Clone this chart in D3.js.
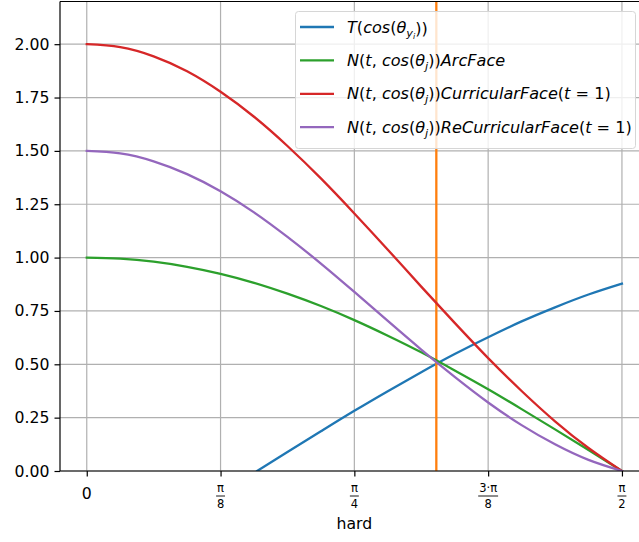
<!DOCTYPE html>
<html>
<head>
  <meta charset="utf-8">
  <script src="https://cdnjs.cloudflare.com/ajax/libs/d3/7.8.5/d3.min.js"></script>
  <style>
    body { margin: 0; background: #fff; }
    text { font-family: "DejaVu Sans", sans-serif; fill: #000; }
  </style>
</head>
<body>
  <script>
    // sample positions (radians) along the x axis
    var thetas = [0, 0.0982, 0.1963, 0.2945, 0.3927, 0.4909, 0.5890, 0.6872, 0.7854,
                  0.8836, 0.9817, 1.0799, 1.1781, 1.2763, 1.3744, 1.4726, 1.5708];

    var arcFace = [1.000, 0.995, 0.981, 0.957, 0.924, 0.882, 0.831, 0.773, 0.707,
                   0.634, 0.556, 0.471, 0.383, 0.290, 0.195, 0.098, 0.000];
    var curricular = [2.000, 1.986, 1.943, 1.873, 1.777, 1.660, 1.523, 1.371, 1.207,
                      1.037, 0.864, 0.694, 0.529, 0.375, 0.233, 0.108, 0.000];
    var reCurricular = [1.500, 1.488, 1.451, 1.391, 1.311, 1.212, 1.097, 0.972, 0.839,
                        0.703, 0.569, 0.441, 0.321, 0.215, 0.125, 0.052, 0.000];

    // target logit only shows above zero
    var targetX = [0.5, 0.5890, 0.6872, 0.7854, 0.8836, 0.9817, 1.0799, 1.1781, 1.2763, 1.3744, 1.4726, 1.5708];
    var targetY = [0.000, 0.089, 0.186, 0.282, 0.374, 0.463, 0.548, 0.627, 0.701, 0.767, 0.827, 0.878];

    var markerX = 1.026;

    var yTicks = [0, 0.25, 0.5, 0.75, 1.0, 1.25, 1.5, 1.75, 2.0];
    var xTicks = [0, Math.PI / 8, Math.PI / 4, 3 * Math.PI / 8, Math.PI / 2];
    var xTickLabels = [{num: "0"}, {num: "π", den: "8"}, {num: "π", den: "4"},
                       {num: "3·π", den: "8"}, {num: "π", den: "2"}];
    var xLabel = "hard";

    // legend labels as math pieces: [text, italic, subscript level]
    var legendLabels = [
      [["T", 1], ["(", 0], ["cos", 1], ["(", 0], ["θ", 1], ["y", 1, 1], ["i", 1, 2], ["))", 0]],
      [["N", 1], ["(", 0], ["t", 1], [", ", 0], ["cos", 1], ["(", 0], ["θ", 1], ["j", 1, 1], ["))", 0], ["ArcFace", 1]],
      [["N", 1], ["(", 0], ["t", 1], [", ", 0], ["cos", 1], ["(", 0], ["θ", 1], ["j", 1, 1], ["))", 0], ["CurricularFace", 1], ["(", 0], ["t", 1], [" = 1)", 0]],
      [["N", 1], ["(", 0], ["t", 1], [", ", 0], ["cos", 1], ["(", 0], ["θ", 1], ["j", 1, 1], ["))", 0], ["ReCurricularFace", 1], ["(", 0], ["t", 1], [" = 1)", 0]]
    ];
    var legendColors = ["#1f77b4", "#2ca02c", "#d62728", "#9467bd"];

    var width = 639, height = 542;
    var plotLeft = 60, plotRight = 648.7, plotTop = 1.5, plotBottom = 471;
    var fs = 15.7, legendFs = 16.1;

    var svg = d3.select("body").append("svg")
      .attr("width", width)
      .attr("height", height);

    var x = d3.scaleLinear()
      .domain([-Math.PI / 40, Math.PI / 2 + Math.PI / 40])
      .range([plotLeft, plotRight]);
    var y = d3.scaleLinear()
      .domain([0, 2.2])
      .range([plotBottom, plotTop]);

    svg.append("clipPath").attr("id", "plot")
      .append("rect")
      .attr("x", plotLeft).attr("y", plotTop)
      .attr("width", plotRight - plotLeft).attr("height", plotBottom - plotTop);

    // grid
    svg.append("g").selectAll("line")
      .data(xTicks).enter().append("line")
      .attr("x1", function(d) { return x(d); })
      .attr("x2", function(d) { return x(d); })
      .attr("y1", plotTop).attr("y2", plotBottom)
      .attr("stroke", "#b0b0b0").attr("stroke-width", 1.2);
    svg.append("g").selectAll("line")
      .data(yTicks).enter().append("line")
      .attr("x1", plotLeft).attr("x2", plotRight)
      .attr("y1", function(d) { return y(d); })
      .attr("y2", function(d) { return y(d); })
      .attr("stroke", "#b0b0b0").attr("stroke-width", 1.2);

    var line = d3.line()
      .x(function(d) { return x(d[0]); })
      .y(function(d) { return y(d[1]); })
      .curve(d3.curveNatural);

    var plot = svg.append("g").attr("clip-path", "url(#plot)");

    function drawSeries(xs, ys, color) {
      plot.append("path")
        .datum(d3.zip(xs, ys))
        .attr("d", line)
        .attr("fill", "none")
        .attr("stroke", color)
        .attr("stroke-width", 2.3)
        .attr("stroke-linejoin", "round")
        .attr("stroke-linecap", "square");
    }

    drawSeries(targetX, targetY, "#1f77b4");
    plot.append("line")
      .attr("x1", x(markerX)).attr("x2", x(markerX))
      .attr("y1", y(0)).attr("y2", y(2.2))
      .attr("stroke", "#ff7f0e").attr("stroke-width", 2.3);
    drawSeries(thetas, arcFace, "#2ca02c");
    drawSeries(thetas, curricular, "#d62728");
    drawSeries(thetas, reCurricular, "#9467bd");

    // y axis
    var yAxis = svg.append("g")
      .attr("transform", "translate(" + plotLeft + ",0)")
      .call(d3.axisLeft(y).tickValues(yTicks).tickFormat(d3.format(".2f"))
        .tickSize(5.5).tickPadding(5));
    yAxis.select(".domain").remove();
    yAxis.selectAll("line").attr("stroke", "#000").attr("stroke-width", 1.2);
    yAxis.selectAll("text").attr("fill", "#000")
      .style("font-size", fs + "px").style("font-family", "DejaVu Sans");

    // x axis ticks (labels drawn as stacked fractions)
    var xAxis = svg.append("g")
      .attr("transform", "translate(0," + plotBottom + ")")
      .call(d3.axisBottom(x).tickValues(xTicks).tickFormat("").tickSize(5.5));
    xAxis.select(".domain").remove();
    xAxis.selectAll("line").attr("stroke", "#000").attr("stroke-width", 1.2);

    var tl = svg.append("g").selectAll("g")
      .data(xTicks).enter().append("g")
      .attr("transform", function(d) { return "translate(" + x(d) + ",0)"; });
    tl.each(function(d, i) {
      var g = d3.select(this), lab = xTickLabels[i];
      if (!lab.den) {
        g.append("text").attr("y", 499).attr("text-anchor", "middle")
          .style("font-size", fs + "px").text(lab.num);
        return;
      }
      var n = g.append("text").attr("y", 492).attr("text-anchor", "middle")
        .style("font-size", "11.5px")
        .text(lab.num);
      var w = n.node().getComputedTextLength() + 2;
      g.append("line").attr("x1", -w / 2).attr("x2", w / 2)
        .attr("y1", 496).attr("y2", 496)
        .attr("stroke", "#000").attr("stroke-width", 0.9);
      g.append("text").attr("y", 507.5).attr("text-anchor", "middle")
        .style("font-size", "11.5px").text(lab.den);
    });

    svg.append("text")
      .attr("x", (plotLeft + plotRight) / 2).attr("y", 529)
      .attr("text-anchor", "middle")
      .style("font-size", fs + "px")
      .text(xLabel);

    // spines
    svg.append("line").attr("x1", plotLeft).attr("x2", plotLeft).attr("y1", plotTop).attr("y2", plotBottom)
      .attr("stroke", "#000").attr("stroke-width", 1.2);
    svg.append("line").attr("x1", plotLeft).attr("x2", plotRight).attr("y1", plotBottom).attr("y2", plotBottom)
      .attr("stroke", "#000").attr("stroke-width", 1.2);
    svg.append("line").attr("x1", plotLeft).attr("x2", plotRight).attr("y1", plotTop).attr("y2", plotTop)
      .attr("stroke", "#000").attr("stroke-width", 1.2);

    // legend
    var lg = svg.append("g");
    lg.append("rect")
      .attr("x", 295.5).attr("y", 11.5).attr("width", 340).attr("height", 137)
      .attr("rx", 3).attr("fill", "#fff").attr("fill-opacity", 0.8)
      .attr("stroke", "#d6d6d6").attr("stroke-width", 1);

    legendLabels.forEach(function(parts, i) {
      var cy = 27 + i * 33.4;
      lg.append("line")
        .attr("x1", 300).attr("x2", 334).attr("y1", cy).attr("y2", cy)
        .attr("stroke", legendColors[i]).attr("stroke-width", 2.3);
      var t = lg.append("text").attr("x", 347).attr("y", cy + 5.5)
        .style("font-size", legendFs + "px");
      var level = 0;
      parts.forEach(function(p) {
        var lv = p[2] || 0;
        var shift = 0;
        if (lv !== level) {
          shift = (lv > 1 || level > 1) ? (lv - level) * 2.5 : (lv - level) * 4;
        }
        var sp = t.append("tspan")
          .style("font-style", p[1] ? "italic" : "normal")
          .style("font-size", (legendFs * Math.pow(0.7, lv)) + "px")
          .text(p[0]);
        if (shift) sp.attr("dy", shift);
        level = lv;
      });
    });
  </script>
</body>
</html>
